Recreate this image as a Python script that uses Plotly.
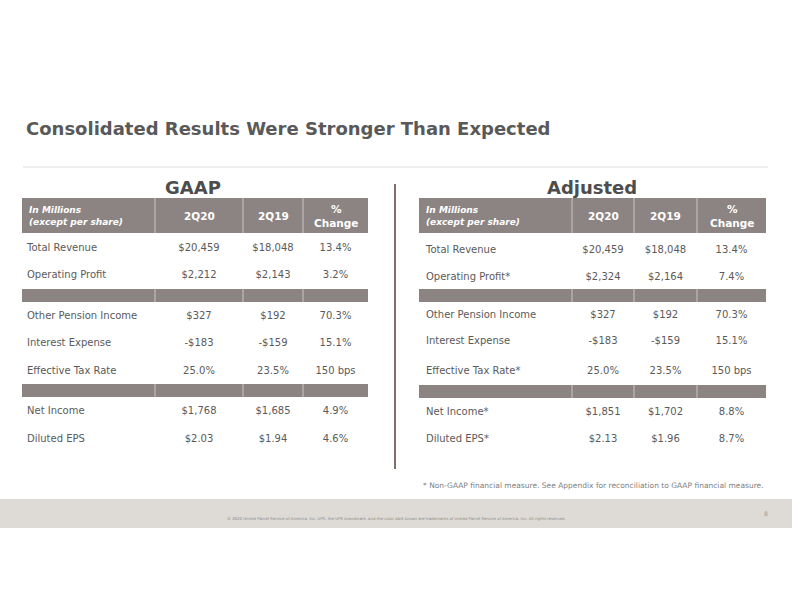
import plotly.graph_objects as go

# ---------------- data ----------------
title = "Consolidated Results Were Stronger Than Expected"
panel_titles = ["GAAP", "Adjusted"]
header_cols = ["2Q20", "2Q19", "%<br>Change"]
header_label = "<i>In Millions<br>(except per share)</i>"

gaap_labels = ["Total Revenue", "Operating Profit", "Other Pension Income",
               "Interest Expense", "Effective Tax Rate", "Net Income", "Diluted EPS"]
gaap_2q20 = ["$20,459", "$2,212", "$327", "-$183", "25.0%", "$1,768", "$2.03"]
gaap_2q19 = ["$18,048", "$2,143", "$192", "-$159", "23.5%", "$1,685", "$1.94"]
gaap_chg = ["13.4%", "3.2%", "70.3%", "15.1%", "150 bps", "4.9%", "4.6%"]

adj_labels = ["Total Revenue", "Operating Profit*", "Other Pension Income",
              "Interest Expense", "Effective Tax Rate*", "Net Income*", "Diluted EPS*"]
adj_2q20 = ["$20,459", "$2,324", "$327", "-$183", "25.0%", "$1,851", "$2.13"]
adj_2q19 = ["$18,048", "$2,164", "$192", "-$159", "23.5%", "$1,702", "$1.96"]
adj_chg = ["13.4%", "7.4%", "70.3%", "15.1%", "150 bps", "8.8%", "8.7%"]

footnote = "* Non-GAAP financial measure. See Appendix for reconciliation to GAAP financial measure."
copyright_text = ("© 2020 United Parcel Service of America, Inc. UPS, the UPS brandmark, and the color "
                  "dark brown are trademarks of United Parcel Service of America, Inc. All rights reserved.")
page_number = "8"

# ---------------- styling / layout ----------------
W, H = 792, 612
FONT = "DejaVu Sans"
TXT = "#5a5a5a"
HDR = "#8b8482"
DIV = "rgba(255,255,255,0.55)"

tables = [
    dict(labels=gaap_labels, cols=[gaap_2q20, gaap_2q19, gaap_chg],
         bounds=[22, 155, 243, 303, 368], label_x=27, title_x=193,
         rows_y=[248, 275, 316, 343, 371, 411, 439],
         bands=[(289, 302), (384, 397)]),
    dict(labels=adj_labels, cols=[adj_2q20, adj_2q19, adj_chg],
         bounds=[419, 572, 634, 697, 766], label_x=426, title_x=592,
         rows_y=[250, 277, 315, 341, 371, 412, 439],
         bands=[(289, 302), (385, 398)]),
]
HDR_TOP, HDR_BOT = 198, 233

fig = go.Figure()
shapes = []
annotations = []

# title & rule
annotations.append(dict(x=24, y=128, text="<b>%s</b>" % title, showarrow=False,
                        xanchor="left", yanchor="middle",
                        font=dict(family=FONT, size=18, color="#595959")))
shapes.append(dict(type="line", x0=23, x1=768, y0=167, y1=167,
                   line=dict(color="#dcdcdc", width=1)))
# vertical divider
shapes.append(dict(type="line", x0=395, x1=395, y0=184, y1=469,
                   line=dict(color="#7d716a", width=2)))

for t, ptitle in zip(tables, panel_titles):
    b = t["bounds"]
    annotations.append(dict(x=t["title_x"], y=187, text="<b>%s</b>" % ptitle, showarrow=False,
                            xanchor="center", yanchor="middle",
                            font=dict(family=FONT, size=18, color="#4d4d4d")))
    # header and band fills
    for (y0, y1) in [(HDR_TOP, HDR_BOT)] + t["bands"]:
        shapes.append(dict(type="rect", x0=b[0], x1=b[-1], y0=y0, y1=y1,
                           fillcolor=HDR, line=dict(width=0), layer="below"))
        for xb in b[1:-1]:
            shapes.append(dict(type="line", x0=xb, x1=xb, y0=y0, y1=y1,
                               line=dict(color=DIV, width=1)))
    # header text
    annotations.append(dict(x=b[0] + 5, y=(HDR_TOP + HDR_BOT) / 2, text="<b>%s</b>" % header_label,
                            showarrow=False, xanchor="left", yanchor="middle", align="left",
                            font=dict(family=FONT, size=9, color="white")))
    for i, hc in enumerate(header_cols):
        cx = (b[i + 1] + b[i + 2]) / 2
        annotations.append(dict(x=cx, y=(HDR_TOP + HDR_BOT) / 2 + 0.5, text="<b>%s</b>" % hc,
                                showarrow=False, xanchor="center", yanchor="middle", align="center",
                                font=dict(family=FONT, size=10.5, color="white")))
    # body text via text traces
    fig.add_trace(go.Scatter(x=[t["label_x"]] * len(t["labels"]), y=t["rows_y"],
                             text=t["labels"], mode="text", textposition="middle right",
                             textfont=dict(family=FONT, size=10, color=TXT),
                             hoverinfo="skip", showlegend=False))
    for i, col in enumerate(t["cols"]):
        cx = (b[i + 1] + b[i + 2]) / 2
        fig.add_trace(go.Scatter(x=[cx] * len(col), y=t["rows_y"], text=col,
                                 mode="text", textposition="middle center",
                                 textfont=dict(family=FONT, size=10, color=TXT),
                                 hoverinfo="skip", showlegend=False))

# footnote
annotations.append(dict(x=766, y=485, text=footnote, showarrow=False,
                        xanchor="right", yanchor="middle",
                        font=dict(family=FONT, size=7.5, color="#808080")))
# footer band
shapes.append(dict(type="rect", x0=0, x1=W, y0=499, y1=528, fillcolor="#dedbd6",
                   line=dict(width=0), layer="below"))
annotations.append(dict(x=396, y=518, text=copyright_text, showarrow=False,
                        xanchor="center", yanchor="middle",
                        font=dict(family=FONT, size=3.9, color="#8a8a8a")))
annotations.append(dict(x=766, y=513, text=page_number, showarrow=False,
                        xanchor="center", yanchor="middle",
                        font=dict(family=FONT, size=6, color="#9a9a9a")))

fig.update_layout(
    width=W, height=H, margin=dict(l=0, r=0, t=0, b=0),
    paper_bgcolor="white", plot_bgcolor="white",
    xaxis=dict(range=[0, W], visible=False, fixedrange=True),
    yaxis=dict(range=[H, 0], visible=False, fixedrange=True),
    shapes=shapes, annotations=annotations, showlegend=False,
)
fig.write_html("out.html", config={"displayModeBar": False},
               post_script="document.body.style.margin='0';document.body.style.overflow='hidden';")
